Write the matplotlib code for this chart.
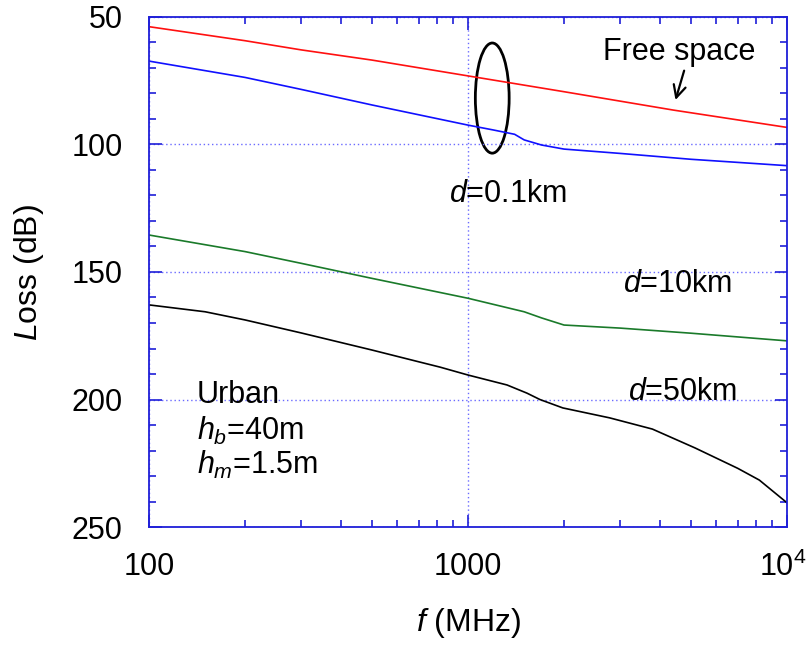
import numpy as np
import matplotlib
matplotlib.use("Agg")
import matplotlib.pyplot as plt
import matplotlib.transforms as mtransforms
from matplotlib.patches import Ellipse

plt.rcParams['font.family'] = ['Liberation Sans', 'DejaVu Sans']
plt.rcParams['mathtext.fontset'] = 'custom'
plt.rcParams['mathtext.rm'] = 'Liberation Sans'
plt.rcParams['mathtext.it'] = 'Liberation Sans:italic'

# curves (frequency in MHz, loss in dB)
f_free = [100, 200, 300, 500, 1000, 2000, 4400, 10000]
loss_free = [53.8, 59.3, 62.9, 66.9, 73.1, 79.3, 86.5, 93.3]

f_01km = [100, 200, 300, 500, 1000, 1200, 1400, 1500, 1700, 2000, 3000, 5000, 10000]
loss_01km = [67.3, 73.7, 78.4, 84.5, 92.4, 94.3, 96.0, 98.2, 100.2, 101.8, 103.5, 105.8, 108.3]

f_10km = [100, 200, 300, 500, 1000, 1500, 1700, 2000, 3000, 5000, 10000]
loss_10km = [135.5, 142.0, 146.6, 152.5, 160.3, 165.6, 168.0, 170.8, 172.0, 174.0, 177.0]

f_50km = [100, 150, 200, 300, 500, 700, 817, 1000, 1325, 1530, 1680, 1982, 2780, 3785, 5150, 7010, 8190, 10000]
loss_50km = [162.9, 165.6, 168.8, 173.9, 180.6, 185.2, 187.3, 190.4, 194.3, 197.5, 200.0, 203.3,
             207.2, 211.6, 219.0, 227.0, 231.6, 240.5]

xticks = [100, 1000, 10000]
xticklabels = ['100', '1000', r'$\mathregular{10^4}$']
yticks = [50, 100, 150, 200, 250]

axis_blue = '#1f1fd8'

fig = plt.figure(figsize=(8.09, 6.46), dpi=100)
ax = fig.add_axes([0.1842, 0.1842, 0.7886, 0.7895])

ax.plot(f_free, loss_free, color='#ff1010', lw=1.2)
ax.plot(f_01km, loss_01km, color='#1010ff', lw=1.2)
ax.plot(f_10km, loss_10km, color='#1a7a2a', lw=1.2)
ax.plot(f_50km, loss_50km, color='black', lw=1.2)

ax.set_xscale('log')
ax.set_xlim(100, 10000)
ax.set_ylim(250, 50)
ax.set_xticks(xticks)
ax.set_xticklabels(xticklabels)
ax.set_yticks(yticks)
ax.set_yticks(np.arange(50, 251, 10), minor=True)

ax.grid(True, which='major', color='#6a6aff', lw=1.0, linestyle=(0, (1, 2)))

for s in ax.spines.values():
    s.set_color(axis_blue)
    s.set_linewidth(1.3)
ax.tick_params(which='both', direction='in', top=True, right=True, color=axis_blue,
               labelsize=22, width=1.2)
ax.tick_params(which='major', length=9)
ax.tick_params(which='minor', length=5)
ax.tick_params(axis='y', pad=19)
ax.tick_params(axis='x', pad=18)

# nudge the 10^4 label a little to the left so it stays inside the figure
last = ax.get_xticklabels()[-1]
last.set_transform(last.get_transform() +
                   mtransforms.ScaledTranslation(-3 / 72, 0, fig.dpi_scale_trans))

ax.set_xlabel(r'$f$ (MHz)', fontsize=23, labelpad=16)
ax.set_ylabel(r'$L$oss (dB)', fontsize=23, labelpad=18)

tkw = dict(transform=ax.transAxes, fontsize=22, va='baseline')
ax.text(0.831, 0.916, 'Free space', ha='center', **tkw)
ax.text(0.562, 0.637, r'$d$=0.1km', ha='center', **tkw)
ax.text(0.828, 0.461, r'$d$=10km', ha='center', **tkw)
ax.text(0.837, 0.249, r'$d$=50km', ha='center', **tkw)
ax.text(0.075, 0.243, 'Urban', ha='left', **tkw)
ax.text(0.075, 0.171, r'$h_b$=40m', ha='left', **tkw)
ax.text(0.075, 0.104, r'$h_m$=1.5m', ha='left', **tkw)

ax.annotate('', xy=(0.824, 0.832), xytext=(0.840, 0.900), xycoords='axes fraction',
            arrowprops=dict(arrowstyle='->', color='black', lw=1.6, mutation_scale=22))

ax.add_patch(Ellipse((0.538, 0.841), 0.053, 0.216, angle=0, transform=ax.transAxes,
                     fill=False, edgecolor='black', lw=2))

fig.savefig('out.png', dpi=100)
